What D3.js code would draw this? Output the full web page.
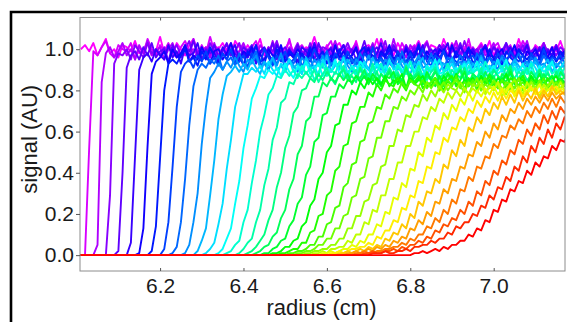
<!DOCTYPE html>
<html>
<head>
<meta charset="utf-8">
<script src="https://cdn.jsdelivr.net/npm/d3@7"></script>
<style>
body { margin: 0; background: #fff; }
text { font-family: "Liberation Sans", Arial, sans-serif; }
</style>
</head>
<body>
<div id="container"></div>
<script>
// radial scans, sampled every 0.01 cm from the radius given in scanStart
const rStep = 0.01
const xTicks = [6.2, 6.4, 6.6, 6.8, 7.0]
const yTicks = [0.0, 0.2, 0.4, 0.6, 0.8, 1.0]
const scanStart = [6.01, 6.02, 6.04, 6.07, 6.09, 6.12, 6.14, 6.17, 6.20, 6.22, 6.25, 6.28, 6.30, 6.33, 6.35, 6.38, 6.40,
    6.42, 6.44, 6.46, 6.48, 6.50, 6.52, 6.54, 6.56, 6.58, 6.60, 6.62, 6.64, 6.66, 6.68, 6.70, 6.80]

const signal = [
    [1.00,1.02,.99,1.03,.97,1.01,1.05,.98,1.00,.96,1.02,1.01,.99,1.04,.98,1.00,1.03,.97,.99,1.06,.98,1.01,.98,1.03,1.00,.97,1.02,1.05,.99,.98,
     1.01,.96,1.02,1.00,1.03,.99,.97,1.04,1.01,.98,1.02,.99,1.00,1.05,.97,1.01,.98,1.03,.99,1.00,1.04,.98,1.02,.97,1.01,1.00,1.06,.99,.98,1.02,
     .96,1.01,1.03,.99,1.00,.98,1.04,.97,1.01,1.02,.99,1.05,.98,1.00,1.01,.97,1.03,.99,1.02,.98,1.00,1.04,.99,.97,1.02,1.01,.98,1.05,1.00,.99,
     1.03,.96,1.01,1.02,.98,1.00,1.03,.99,1.04,.97,1.01,.99,1.02,1.00,.98,1.05,.99,1.01,.97,1.02,1.00,1.03,.98,1.01,.99,1.04,.98,1.00],
    [0,.52,.99,
     .97,1.01,1.04,.98,.96,1.02,1.00,.99,1.03,.95,1.01,.98,1.05,1.00,.97,1.02,.99,1.03,.98,.96,1.01,1.04,.99,1.00,.97,1.02,.98,1.06,.99,1.01,
     .97,1.00,1.03,.98,.99,1.02,.96,1.01,1.04,.98,1.00,.97,1.03,.99,1.01,.98,1.05,.97,1.00,1.02,.99,.96,1.03,1.00,.98,1.01,1.04,.97,.99,1.02,
     .98,1.00,1.03,.96,1.01,.99,1.02,.97,1.05,1.00,.98,1.01,.97,1.03,.99,1.00,1.02,.96,1.01,1.04,.98,.99,1.02,1.00,.97,1.03,.99,1.01,.98,1.05,
     .97,1.00,1.02,.99,.96,1.01,1.03,.98,1.00,1.02,.97,.99,1.04,1.00,.98,1.01,.99,1.03,.97,1.00,1.02,.98],
    [0,.05,.84,.98,
     1.01,.96,.99,1.03,.97,1.00,.95,1.02,.98,1.04,.97,.99,1.01,.95,1.00,1.03,.97,.98,1.02,.96,1.05,.98,.99,1.01,.96,1.03,.97,1.00,.98,1.02,
     .95,.99,1.03,.98,1.00,.96,1.02,.99,.97,1.04,.98,1.00,.96,1.01,.99,1.03,.97,.98,1.01,.95,1.02,1.00,.97,.99,1.04,.98,.96,1.01,.99,1.02,
     .97,1.00,.98,1.03,.96,.99,1.01,.97,1.05,.98,1.00,.96,1.02,.99,.97,1.01,1.03,.98,.96,1.00,1.02,.97,.99,1.04,.98,1.00,.95,1.01,.98,1.02,
     .97,.99,1.03,.96,1.00,1.01,.98,.97,1.02,.99,1.04,.97,.98,1.01,.99,1.00,.96,1.02,.98,1.00,.97],
    [0,.29,.93,.98,
     .97,1.00,.95,1.02,.99,.96,1.03,.98,1.00,.97,1.01,.94,.99,1.02,.97,1.00,1.04,.96,.98,1.01,.97,1.03,.99,.95,1.00,1.02,.97,.99,1.03,.96,
     1.00,.98,1.02,.97,.95,1.01,.99,1.04,.97,.98,1.00,.96,1.02,.99,.97,1.03,.98,.96,1.01,1.00,.97,1.02,.95,.99,1.03,.98,1.00,.96,1.01,.99,
     1.02,.97,.98,1.04,.96,1.00,.99,.97,1.02,.98,1.01,.95,.99,1.03,.97,1.00,.98,1.02,.96,.99,1.01,.97,1.04,.98,.99,1.00,.96,1.02,.98,1.01,
     .97,.99,1.03,.96,1.00,.98,1.02,.97,.99,1.01,.96,1.03,.98,1.00,.97,1.01,.99,.98],
    [0,.02,.40,.91,.97,
     .99,.95,1.01,.97,1.03,.96,.99,1.00,.94,1.02,.98,.96,1.01,.99,1.04,.97,.95,1.00,.98,1.02,.96,.99,1.03,.97,.98,.95,1.01,.99,1.02,.96,
     .98,1.00,.97,1.03,.95,.99,1.01,.97,.98,1.02,.96,1.00,.99,.95,1.03,.97,.98,1.01,.96,.99,1.02,.97,1.00,.95,.98,1.04,.97,.99,1.01,.96,
     1.00,.97,1.02,.98,.95,1.01,.99,.97,1.03,.96,.98,1.00,.97,1.02,.99,.95,1.01,.98,1.03,.96,.99,1.00,.97,.98,1.02,.96,1.01,.99,.97,1.03,
     .98,.95,1.00,.99,1.02,.97,.96,1.01,.98,1.00,.97,1.02,.96,.99,.98],
    [0,.06,.48,.90,.96,
     .98,.94,1.00,.97,.95,1.02,.96,.99,.93,1.01,.97,.98,1.03,.95,.96,1.00,.98,.94,1.01,.97,.99,1.02,.95,.98,.96,1.00,.93,.99,1.01,.97,
     .95,1.02,.98,.96,1.00,.97,.94,1.01,.99,.96,1.03,.97,.95,.99,1.00,.96,.98,1.02,.95,.97,1.00,.94,.99,1.01,.96,.98,1.03,.95,.97,1.00,
     .98,.94,1.01,.96,.99,.97,1.02,.95,.98,1.00,.96,.99,1.03,.94,.97,1.01,.98,.96,1.00,.95,.99,1.02,.97,.96,1.00,.94,.98,1.01,.96,.99,
     .97,1.02,.95,.98,1.00,.96,.99,.97,1.01,.95,.98,.97],
    [0,.01,.13,.53,.88,.94,
     .96,.99,.93,1.00,.96,.98,1.02,.94,.97,.95,1.01,.97,.93,.99,1.00,.95,.98,1.03,.96,.94,.99,.97,1.01,.95,.98,.93,1.00,.97,.96,1.02,
     .94,.98,.96,1.00,.97,.93,.99,1.01,.95,.97,.98,.94,1.02,.96,.99,.95,.97,1.01,.94,.98,1.00,.96,.93,.99,.97,1.02,.95,.98,.96,1.00,
     .94,.97,1.01,.95,.99,.96,.93,1.00,.98,.95,1.02,.96,.97,.94,1.00,.98,.95,.99,1.01,.96,.94,.98,1.00,.95,.97,1.02,.96,.93,.99,.97,
     1.00,.95,.98,.96,1.01,.94,.97,.99,.96],
    [0,.02,.14,.47,.80,.93,.95,
     .93,.97,1.00,.94,.96,.92,.99,.95,1.01,.96,.93,.98,.95,1.00,.94,.97,.92,.99,.96,1.02,.94,.95,.98,.93,1.00,.96,.94,.99,.97,.92,
     .98,.95,1.01,.94,.96,.99,.93,.97,.95,1.00,.94,.98,.96,.92,.99,1.01,.95,.97,.93,.98,.96,1.00,.94,.97,.95,.92,.99,.96,1.02,.94,
     .97,.95,.98,.93,1.00,.96,.94,.99,.95,.97,1.01,.93,.96,.98,.94,1.00,.95,.97,.92,.99,.96,.94,1.00,.97,.95,.98,.93,.96,1.01,.95,
     .97,.94,.99,.96,.95],
    [0,.03,.16,.43,.72,.89,.93,
     .95,.91,.97,.94,.99,.93,.96,.92,.98,.95,1.00,.93,.94,.97,.91,.98,.95,.93,1.00,.96,.92,.97,.94,.99,.93,.95,.98,.91,.96,.94,
     1.00,.95,.93,.97,.92,.98,.95,.94,.99,.93,.96,.91,.98,.95,1.01,.94,.96,.93,.97,.92,.99,.95,.94,.98,.93,.96,1.00,.94,.92,.97,
     .95,.99,.93,.96,.94,.91,.98,.95,.97,.93,1.00,.94,.96,.92,.98,.95,.93,.99,.96,.94,.97,.92,.98,.95,.93,1.00,.94,.96,.95,.97,
     .93,.96],
    [0,.01,.04,.16,.37,.63,.82,.90,.93,
     .91,.95,.93,.97,.90,.94,.96,.92,.98,.93,.91,.95,.99,.92,.94,.90,.96,.93,.97,.91,.95,.93,.98,.92,.94,.96,.90,.95,.93,.99,
     .92,.94,.91,.97,.93,.95,.92,.98,.94,.90,.96,.93,.95,.91,.97,.94,.92,.99,.93,.95,.91,.96,.94,.92,.98,.93,.95,.90,.96,.94,
     .92,.97,.93,.95,.91,.98,.94,.92,.96,.93,.90,.97,.95,.92,.94,.98,.93,.91,.96,.94,.92,.97,.93,.95,.91,.94,.96,.93],
    [0,.01,.05,.16,.30,.54,.72,.86,.89,.93,
     .90,.94,.91,.96,.92,.89,.95,.93,.97,.91,.93,.90,.95,.92,.98,.91,.94,.92,.89,.96,.93,.91,.95,.92,.97,.90,.93,.94,.91,.96,
     .92,.89,.95,.93,.91,.97,.92,.94,.90,.95,.93,.91,.96,.92,.89,.94,.93,.97,.91,.92,.95,.90,.94,.93,.91,.96,.92,.94,.90,.95,
     .93,.91,.97,.92,.90,.94,.93,.96,.91,.92,.95,.89,.93,.94,.91,.96,.92,.93,.90,.95,.92,.94,.91,.93],
    [0,.02,.07,.13,.29,.46,.66,.78,.87,.89,.92,
     .89,.93,.90,.95,.91,.88,.94,.92,.96,.90,.92,.89,.95,.91,.93,.88,.96,.92,.90,.94,.91,.97,.89,.92,.93,.90,.95,.91,.88,.94,
     .92,.90,.96,.91,.93,.89,.94,.92,.90,.95,.91,.88,.93,.92,.96,.90,.91,.94,.89,.93,.92,.95,.90,.91,.94,.88,.93,.91,.96,.90,
     .92,.89,.94,.91,.93,.90,.95,.92,.88,.93,.91,.94,.90,.92,.95,.89,.93,.91,.92,.90],
    [0,.01,.03,.06,.15,.25,.42,.56,.72,.80,.88,.88,.91,
     .89,.92,.88,.94,.90,.87,.93,.91,.95,.89,.91,.88,.94,.90,.92,.87,.95,.91,.89,.93,.90,.96,.88,.91,.92,.89,.94,.90,.87,.93,
     .91,.89,.95,.90,.92,.88,.93,.91,.89,.94,.90,.87,.92,.91,.95,.89,.90,.93,.88,.92,.91,.94,.89,.90,.93,.87,.92,.90,.95,.89,
     .91,.88,.93,.90,.92,.89,.94,.91,.87,.92,.90,.93,.89,.91,.94,.90],
    [0,.01,.03,.08,.13,.25,.36,.52,.63,.76,.81,.87,.86,.90,
     .88,.91,.87,.93,.89,.86,.92,.90,.94,.88,.90,.93,.87,.91,.89,.95,.88,.90,.86,.92,.89,.94,.91,.87,.90,.93,.88,.92,.89,.86,
     .93,.90,.88,.94,.89,.91,.87,.92,.90,.95,.88,.89,.92,.86,.91,.90,.93,.88,.89,.94,.87,.91,.89,.92,.88,.90,.95,.87,.91,.89,
     .93,.88,.90,.86,.92,.89,.91,.94,.88,.90,.87,.92],
    [0,.01,.02,.05,.07,.16,.22,.35,.46,.60,.68,.78,.81,.87,.86,.90,
     .87,.90,.86,.92,.88,.91,.85,.89,.93,.87,.90,.88,.94,.86,.89,.91,.87,.92,.88,.85,.91,.89,.93,.87,.90,.86,.92,.89,.88,.94,
     .87,.90,.85,.91,.89,.92,.86,.88,.93,.87,.90,.89,.85,.92,.88,.91,.87,.94,.89,.86,.90,.92,.87,.89,.91,.85,.90,.88,.93,.87,
     .89,.86,.92,.88,.90,.87,.91,.89],
    [0,.01,.03,.06,.08,.16,.22,.34,.42,.56,.62,.74,.76,.84,.83,.88,.86,
     .89,.86,.90,.84,.88,.91,.85,.89,.87,.92,.86,.88,.90,.84,.89,.87,.93,.85,.88,.86,.91,.87,.89,.84,.90,.88,.86,.92,.87,.85,
     .89,.91,.86,.88,.84,.90,.87,.92,.85,.89,.88,.86,.91,.84,.88,.90,.87,.85,.92,.88,.86,.89,.87,.91,.85,.88,.90,.86,.89,.84,
     .88,.91,.87,.89],
    [0,.01,.02,.04,.07,.10,.17,.22,.33,.40,.52,.58,.69,.72,.80,.81,.86,.84,.88,
     .85,.89,.86,.83,.88,.90,.85,.87,.84,.91,.86,.88,.85,.89,.83,.87,.90,.86,.88,.84,.92,.85,.87,.89,.84,.88,.86,.90,.83,.87,
     .89,.85,.88,.86,.91,.84,.87,.85,.89,.86,.83,.90,.87,.85,.88,.92,.84,.86,.89,.85,.87,.83,.90,.86,.88,.85,.89,.84,.87,.88],
    [0,.01,.02,.04,.05,.09,.11,.18,.22,.32,.37,.49,.53,.65,.67,.77,.77,.84,.82,.86,.84,.88,
     .85,.88,.83,.87,.86,.90,.84,.86,.82,.88,.85,.89,.83,.87,.85,.91,.84,.86,.88,.83,.87,.85,.89,.86,.82,.88,.84,.87,.90,.85,
     .83,.88,.86,.84,.89,.85,.87,.82,.88,.86,.90,.84,.85,.87,.83,.89,.86,.84,.88,.85,.87,.83,.89,.86,.85],
    [0,.01,.01,.03,.04,.07,.08,.14,.17,.25,.28,.39,.43,.55,.57,.68,.69,.77,.77,.83,.81,.85,.84,.87,
     .84,.87,.83,.88,.85,.82,.87,.86,.89,.83,.85,.81,.88,.84,.86,.83,.89,.85,.82,.87,.84,.88,.86,.83,.85,.89,.82,.86,.84,.87,
     .83,.88,.85,.81,.86,.84,.89,.83,.85,.87,.82,.86,.84,.88,.83,.85,.87,.82,.86,.84,.85],
    [0,.01,.01,.02,.04,.04,.07,.08,.14,.16,.24,.27,.37,.40,.50,.53,.63,.64,.73,.73,.80,.78,.84,.81,.86,.83,
     .86,.83,.87,.82,.85,.84,.88,.81,.86,.83,.85,.87,.82,.84,.86,.80,.87,.84,.83,.88,.82,.85,.84,.86,.81,.87,.83,.85,.82,.86,
     .84,.88,.83,.81,.86,.85,.82,.87,.84,.83,.86,.81,.85,.87,.83,.84,.86],
    [0,.01,.01,.02,.03,.03,.06,.06,.11,.12,.19,.20,.29,.31,.41,.43,.53,.54,.64,.65,.72,.72,.79,.77,.83,.80,.85,.83,
     .82,.86,.83,.80,.85,.84,.87,.81,.84,.82,.86,.83,.80,.85,.87,.82,.84,.81,.86,.83,.85,.80,.84,.87,.82,.83,.85,.81,.86,.84,
     .82,.87,.83,.80,.85,.84,.82,.86,.81,.84,.85,.83,.84],
    [0,.01,.01,.02,.02,.03,.05,.05,.09,.09,.15,.16,.23,.24,.33,.35,.44,.45,.55,.56,.64,.65,.72,.71,.78,.76,.81,.79,.84,.81,.85,.83,
     .82,.85,.81,.84,.86,.80,.83,.85,.82,.87,.81,.84,.82,.85,.80,.83,.86,.82,.84,.81,.85,.83,.80,.86,.82,.84,.81,.85,.83,.82,
     .86,.81,.84,.83,.85,.82,.84],
    [0,.01,.01,.02,.02,.03,.05,.05,.08,.08,.13,.13,.19,.20,.28,.29,.37,.38,.47,.48,.57,.57,.65,.65,.72,.71,.77,.75,.80,.78,.82,.79,.84,.81,.84,
     .81,.84,.80,.83,.85,.82,.79,.84,.82,.86,.80,.83,.81,.85,.82,.79,.84,.83,.81,.86,.80,.82,.84,.81,.85,.80,.83,.82,.84,.81,
     .83,.82],
    [0,.01,.01,.02,.02,.03,.03,.05,.05,.08,.08,.13,.13,.19,.19,.26,.27,.34,.35,.43,.44,.53,.53,.61,.60,.68,.67,.73,.72,.78,.75,.80,.77,.82,.79,.83,.81,
     .80,.84,.81,.78,.83,.82,.85,.79,.82,.80,.84,.81,.78,.83,.85,.80,.82,.79,.84,.81,.83,.78,.82,.85,.80,.81,.83,.82],
    [0,.01,.01,.02,.01,.03,.03,.04,.04,.07,.06,.10,.10,.16,.15,.22,.21,.29,.29,.37,.37,.45,.45,.53,.53,.60,.60,.67,.66,.72,.70,.76,.74,.79,.76,.80,.77,.81,.78,
     .81,.79,.83,.78,.82,.80,.84,.77,.81,.83,.79,.82,.78,.84,.80,.81,.77,.83,.80,.82,.79,.84,.80,.81],
    [0,.01,.01,.02,.01,.02,.03,.03,.05,.04,.07,.06,.10,.10,.15,.14,.21,.20,.28,.27,.35,.33,.42,.41,.50,.48,.57,.55,.63,.61,.69,.66,.73,.70,.76,.73,.79,.75,.80,.77,.81,.78,
     .82,.78,.81,.79,.83,.77,.80,.82,.78,.81,.79,.83,.78,.80,.82,.79,.81,.80,.82],
    [0,.01,.01,.02,.01,.02,.03,.03,.04,.04,.06,.05,.09,.08,.12,.12,.17,.16,.23,.22,.29,.28,.36,.35,.43,.42,.50,.49,.57,.55,.62,.61,.67,.65,.71,.69,.75,.72,.77,.74,.79,.75,.80,.76,.80,
     .78,.81,.77,.80,.82,.78,.79,.81,.77,.80,.82,.78,.80,.79],
    [0,.01,.01,.02,.01,.02,.03,.02,.04,.03,.05,.04,.08,.07,.11,.10,.15,.13,.20,.18,.26,.24,.31,.30,.37,.35,.44,.42,.51,.48,.56,.53,.62,.60,.67,.64,.71,.68,.74,.71,.77,.73,.78,.74,.80,.75,.79,.76,.81,.76,.80,.77,.82,.78,.80,.78,.81],
    [0,.01,.01,.02,.01,.02,.03,.02,.04,.03,.05,.04,.07,.06,.09,.08,.13,.12,.17,.15,.21,.19,.26,.25,.32,.30,.37,.36,.43,.42,.49,.48,.55,.53,.60,.57,.64,.61,.68,.65,.71,.69,.74,.71,.76,.73,.77,.74,.78,.75,.79,.76,.78,.79,.77],
    [0,.01,.01,.02,.01,.01,.02,.02,.03,.03,.04,.04,.06,.05,.08,.07,.10,.10,.14,.13,.18,.16,.22,.20,.27,.25,.32,.31,.38,.36,.43,.42,.48,.47,.54,.52,.58,.57,.63,.61,.66,.64,.70,.67,.72,.69,.74,.71,.76,.72,.77,.74,.76],
    [0,.01,.01,.02,.01,.01,.02,.02,.03,.02,.04,.03,.05,.05,.07,.06,.09,.08,.12,.11,.15,.14,.18,.17,.22,.20,.26,.24,.31,.29,.36,.34,.41,.39,.46,.44,.51,.49,.56,.54,.61,.58,.64,.61,.68,.64,.70,.66,.72,.69,.73],
    [0,.01,.01,.01,.02,.01,.01,.02,.02,.03,.02,.04,.04,.05,.05,.07,.06,.08,.08,.11,.10,.14,.13,.16,.16,.20,.19,.24,.23,.29,.27,.33,.32,.38,.36,.43,.41,.48,.45,.53,.50,.57,.54,.61,.57,.64,.61,.67,.64],
    [0,.01,.01,.02,.01,.02,.03,.02,.04,.03,.05,.05,.07,.07,.10,.09,.13,.12,.17,.16,.22,.21,.27,.26,.32,.31,.36,.35,.41,.39,.45,.43,.48,.47,.53,.51,.56,.55,.60]
]

const config = {
    width: 567,
    height: 322,
    left: 80,
    right: 565,
    top: 17.5,
    bottom: 271,
}

const svg = d3.select('#container')
    .append('svg')
    .attr('width', config.width)
    .attr('height', config.height)

// panel frame (only its top-left corner is inside the picture)
svg.append('path')
    .attr('d', `M11,${config.height + 2}V12H${config.width + 2}`)
    .attr('fill', 'none')
    .attr('stroke', '#000')
    .attr('stroke-width', 2.6)

const xScale = d3.scaleLinear()
    .domain([6.008, 7.171])
    .range([config.left, config.right])

const yScale = d3.scaleLinear()
    .domain([-0.077, 1.154])
    .range([config.bottom, config.top])

const hue = d3.scaleLinear()
    .domain([0, signal.length - 1])
    .range([300, 0])

svg.append('clipPath')
    .attr('id', 'plot-clip')
    .append('rect')
    .attr('x', config.left)
    .attr('y', config.top)
    .attr('width', config.right - config.left)
    .attr('height', config.bottom - config.top)

const line = d3.line()
    .x(d => xScale(d[0]))
    .y(d => yScale(d[1]))

const scanPoints = signal.map((vals, i) => {
    const pts = vals.map((v, j) => [scanStart[i] + j * rStep, v])
    if (vals[0] === 0) pts.unshift([xScale.domain()[0], 0])
    return pts
})

svg.append('g')
    .attr('clip-path', 'url(#plot-clip)')
    .selectAll('path')
    .data(scanPoints)
    .join('path')
    .attr('d', line)
    .attr('fill', 'none')
    .attr('stroke', (_, i) => d3.hsl(hue(i), 1, 0.5))
    .attr('stroke-width', 1.9)
    .attr('stroke-linejoin', 'round')

// axes box
svg.append('rect')
    .attr('x', config.left)
    .attr('y', config.top)
    .attr('width', config.right - config.left)
    .attr('height', config.bottom - config.top)
    .attr('fill', 'none')
    .attr('stroke', '#8c8c8c')
    .attr('stroke-width', 1)

svg.append('g')
    .attr('class', 'x-axis')
    .attr('transform', `translate(0,${config.bottom})`)
    .call(d3.axisBottom(xScale)
        .tickValues(xTicks)
        .tickSize(-3)
        .tickPadding(7)
        .tickFormat(d3.format('.1f')))

svg.append('g')
    .attr('class', 'x-axis-top')
    .attr('transform', `translate(0,${config.top})`)
    .call(d3.axisTop(xScale)
        .tickValues(xTicks)
        .tickSize(-3)
        .tickFormat(''))

svg.append('g')
    .attr('class', 'y-axis')
    .attr('transform', `translate(${config.left},0)`)
    .call(d3.axisLeft(yScale)
        .tickValues(yTicks)
        .tickSize(4)
        .tickPadding(2)
        .tickFormat(d3.format('.1f')))

svg.selectAll('.x-axis .domain, .x-axis-top .domain, .y-axis .domain').remove()
svg.selectAll('.tick line').attr('stroke', '#555')
svg.selectAll('.tick text')
    .style('font-size', '21px')
    .style('font-family', '"Liberation Sans", Arial, sans-serif')
    .attr('fill', '#1a1a1a')

svg.append('text')
    .attr('text-anchor', 'middle')
    .attr('x', (config.left + config.right) / 2 - 1)
    .attr('y', 315)
    .text('radius (cm)')
    .style('font-size', '22px')
    .attr('fill', '#1a1a1a')

svg.append('text')
    .attr('text-anchor', 'middle')
    .attr('transform', `translate(37,${(config.top + config.bottom) / 2 - 5}) rotate(-90)`)
    .text('signal (AU)')
    .style('font-size', '22px')
    .attr('fill', '#1a1a1a')
</script>
</body>
</html>
